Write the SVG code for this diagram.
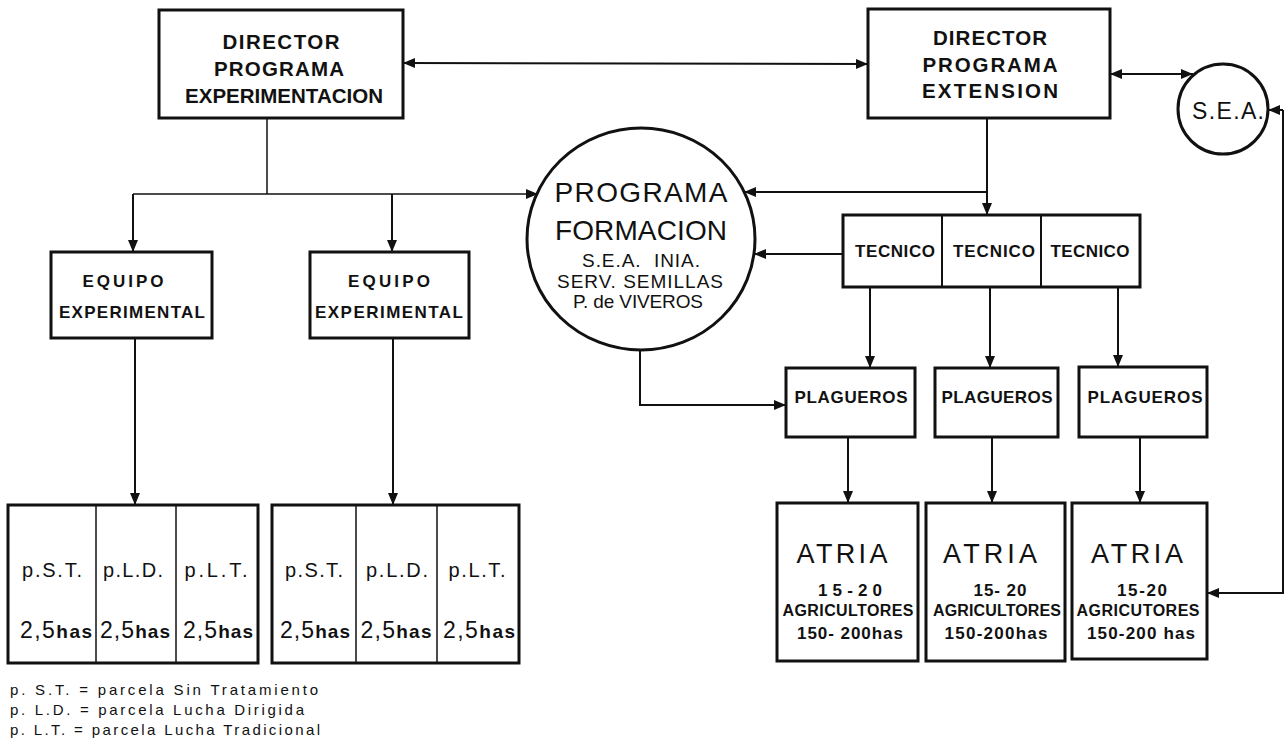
<svg xmlns="http://www.w3.org/2000/svg" width="1285" height="741" viewBox="0 0 1285 741">
<style>
text{font-family:"Liberation Sans",Arial,sans-serif;fill:#111;text-anchor:middle}
.box{fill:#fff;stroke:#111;stroke-width:3}
.thin{fill:none;stroke:#111;stroke-width:1.5}
.c{fill:none;stroke:#111;stroke-width:2}
.b{font-weight:bold}
.dir{font-size:20.5px;font-weight:bold}
.lbl{font-size:17px;font-weight:bold}
.sm{font-size:16px;font-weight:bold}
.leg{font-size:15px;text-anchor:start}
</style>
<defs>
<marker id="ah" viewBox="0 0 12 10" refX="12" refY="5" markerWidth="12" markerHeight="10" orient="auto-start-reverse" markerUnits="userSpaceOnUse"><path d="M0,0 L12,5 L0,10 z" fill="#111"/></marker>
</defs>

<g id="connectors">
<line class="c" x1="403" y1="63" x2="868" y2="64" marker-start="url(#ah)" marker-end="url(#ah)"/>
<line class="c" x1="1110" y1="74" x2="1193" y2="74" marker-start="url(#ah)" marker-end="url(#ah)"/>
<polyline class="c" points="1283,110 1283,593 1207,593" marker-end="url(#ah)"/>
<line class="c" x1="1283" y1="110" x2="1268" y2="110" marker-end="url(#ah)"/>
<line class="thin" x1="267" y1="118" x2="267" y2="194"/>
<line class="thin" x1="133" y1="194" x2="538" y2="194" marker-end="url(#ah)"/>
<line class="c" x1="133" y1="194" x2="133" y2="252" marker-end="url(#ah)"/>
<line class="c" x1="392" y1="194" x2="392" y2="252" marker-end="url(#ah)"/>
<line class="c" x1="135" y1="338" x2="135" y2="505" marker-end="url(#ah)"/>
<line class="c" x1="393" y1="338" x2="393" y2="505" marker-end="url(#ah)"/>
<line class="c" x1="987" y1="118" x2="987" y2="215" marker-end="url(#ah)"/>
<line class="c" x1="987" y1="192" x2="744" y2="192" marker-end="url(#ah)"/>
<line class="c" x1="843" y1="254" x2="754" y2="254" marker-end="url(#ah)"/>
<polyline class="c" points="640,350 640,405 786,405" marker-end="url(#ah)"/>
<line class="c" x1="870" y1="287" x2="870" y2="368" marker-end="url(#ah)"/>
<line class="c" x1="990" y1="287" x2="990" y2="368" marker-end="url(#ah)"/>
<line class="c" x1="1118" y1="287" x2="1118" y2="367" marker-end="url(#ah)"/>
<line class="c" x1="848" y1="437" x2="848" y2="503" marker-end="url(#ah)"/>
<line class="c" x1="992" y1="437" x2="992" y2="503" marker-end="url(#ah)"/>
<line class="c" x1="1140" y1="437" x2="1140" y2="503" marker-end="url(#ah)"/>
</g>

<g id="dir-exp">
<rect class="box" x="159" y="10" width="244" height="108"/>
<text class="dir" x="281" y="49" textLength="117" lengthAdjust="spacing">DIRECTOR</text>
<text class="dir" x="279" y="76" textLength="130" lengthAdjust="spacing">PROGRAMA</text>
<text class="dir" x="284" y="103" textLength="198" lengthAdjust="spacing">EXPERIMENTACION</text>
</g>

<g id="dir-ext">
<rect class="box" x="868" y="9" width="242" height="109"/>
<text class="dir" x="990" y="45" textLength="114" lengthAdjust="spacing">DIRECTOR</text>
<text class="dir" x="990" y="72" textLength="135" lengthAdjust="spacing">PROGRAMA</text>
<text class="dir" x="990" y="98" textLength="136" lengthAdjust="spacing">EXTENSION</text>
</g>

<g id="sea">
<circle cx="1223" cy="109" r="45" fill="#fff" stroke="#111" stroke-width="3"/>
<text x="1228" y="119" style="font-size:23px" textLength="72" lengthAdjust="spacing">S.E.A.</text>
</g>

<g id="formacion">
<ellipse cx="641" cy="239" rx="114" ry="111" fill="#fff" stroke="#111" stroke-width="3"/>
<text x="641" y="202" style="font-size:28px" textLength="173" lengthAdjust="spacing">PROGRAMA</text>
<text x="641" y="240" style="font-size:28px" textLength="172" lengthAdjust="spacing">FORMACION</text>
<text x="641" y="267" style="font-size:19px;white-space:pre" textLength="118" lengthAdjust="spacing">S.E.A.  INIA.</text>
<text x="640" y="288" style="font-size:19px" textLength="166" lengthAdjust="spacing">SERV. SEMILLAS</text>
<text x="638" y="308" style="font-size:19px" textLength="130" lengthAdjust="spacing">P. de VIVEROS</text>
</g>

<g id="equipo1">
<rect class="box" x="51" y="252" width="161" height="86"/>
<text class="lbl" x="123" y="287" textLength="81" lengthAdjust="spacing">EQUIPO</text>
<text class="lbl" x="132" y="318" textLength="146" lengthAdjust="spacing">EXPERIMENTAL</text>
</g>
<g id="equipo2">
<rect class="box" x="310" y="252" width="159" height="86"/>
<text class="lbl" x="389" y="287" textLength="82" lengthAdjust="spacing">EQUIPO</text>
<text class="lbl" x="389" y="318" textLength="148" lengthAdjust="spacing">EXPERIMENTAL</text>
</g>

<g id="parcelas1">
<rect class="box" x="8" y="505" width="250" height="158"/>
<line class="thin" x1="96" y1="505" x2="96" y2="663"/>
<line class="thin" x1="176" y1="505" x2="176" y2="663"/>
<text x="52" y="577" style="font-size:20px" textLength="60" lengthAdjust="spacing">p.S.T.</text>
<text x="133" y="577" style="font-size:20px" textLength="60" lengthAdjust="spacing">p.L.D.</text>
<text x="216" y="577" style="font-size:20px" textLength="63" lengthAdjust="spacing">p.L.T.</text>
<text x="56" y="638" style="font-size:23px" textLength="72" lengthAdjust="spacing">2,5<tspan class="b" style="font-size:19px">has</tspan></text>
<text x="135" y="638" style="font-size:23px" textLength="70" lengthAdjust="spacing">2,5<tspan class="b" style="font-size:19px">has</tspan></text>
<text x="218" y="638" style="font-size:23px" textLength="70" lengthAdjust="spacing">2,5<tspan class="b" style="font-size:19px">has</tspan></text>
</g>

<g id="parcelas2">
<rect class="box" x="272" y="505" width="247" height="158"/>
<line class="thin" x1="356" y1="505" x2="356" y2="663"/>
<line class="thin" x1="437" y1="505" x2="437" y2="663"/>
<text x="314" y="577" style="font-size:20px" textLength="58" lengthAdjust="spacing">p.S.T.</text>
<text x="397" y="577" style="font-size:20px" textLength="62" lengthAdjust="spacing">p.L.D.</text>
<text x="477" y="577" style="font-size:20px" textLength="57" lengthAdjust="spacing">p.L.T.</text>
<text x="315" y="638" style="font-size:23px" textLength="70" lengthAdjust="spacing">2,5<tspan class="b" style="font-size:19px">has</tspan></text>
<text x="396" y="638" style="font-size:23px" textLength="71" lengthAdjust="spacing">2,5<tspan class="b" style="font-size:19px">has</tspan></text>
<text x="479" y="638" style="font-size:23px" textLength="72" lengthAdjust="spacing">2,5<tspan class="b" style="font-size:19px">has</tspan></text>
</g>

<g id="tecnicos">
<rect class="box" x="843" y="215" width="297" height="72"/>
<line class="c" x1="942" y1="215" x2="942" y2="287" stroke-width="3"/>
<line class="c" x1="1041" y1="215" x2="1041" y2="287" stroke-width="3"/>
<text class="lbl" x="895" y="257" textLength="80" lengthAdjust="spacing">TECNICO</text>
<text class="lbl" x="994" y="257" textLength="82" lengthAdjust="spacing">TECNICO</text>
<text class="lbl" x="1090" y="257" textLength="79" lengthAdjust="spacing">TECNICO</text>
</g>

<g id="plagueros1">
<rect class="box" x="786" y="368" width="129" height="69"/>
<text class="lbl" x="851" y="403" textLength="113" lengthAdjust="spacing">PLAGUEROS</text>
</g>
<g id="plagueros2">
<rect class="box" x="935" y="368" width="123" height="69"/>
<text class="lbl" x="997" y="403" textLength="111" lengthAdjust="spacing">PLAGUEROS</text>
</g>
<g id="plagueros3">
<rect class="box" x="1079" y="367" width="128" height="70"/>
<text class="lbl" x="1145" y="403" textLength="115" lengthAdjust="spacing">PLAGUEROS</text>
</g>

<g id="atria1">
<rect class="box" x="777" y="503" width="141" height="158" stroke-width="3.5"/>
<text x="842" y="563" style="font-size:27px" textLength="91" lengthAdjust="spacing">ATRIA</text>
<text class="lbl" x="850" y="596" textLength="64" lengthAdjust="spacing">15-20</text>
<text class="sm" x="848" y="616" textLength="131" lengthAdjust="spacing">AGRICULTORES</text>
<text class="lbl" x="850" y="639" textLength="106" lengthAdjust="spacing">150- 200has</text>
</g>
<g id="atria2">
<rect class="box" x="926" y="503" width="139" height="158" stroke-width="3.5"/>
<text x="990" y="563" style="font-size:27px" textLength="94" lengthAdjust="spacing">ATRIA</text>
<text class="lbl" x="1000" y="596" textLength="53" lengthAdjust="spacing">15- 20</text>
<text class="sm" x="997" y="616" textLength="128" lengthAdjust="spacing">AGRICULTORES</text>
<text class="lbl" x="996" y="639" textLength="103" lengthAdjust="spacing">150-200has</text>
</g>
<g id="atria3">
<rect class="box" x="1072" y="503" width="135" height="156" stroke-width="3.5"/>
<text x="1137" y="563" style="font-size:27px" textLength="92" lengthAdjust="spacing">ATRIA</text>
<text class="lbl" x="1142" y="596" textLength="50" lengthAdjust="spacing">15-20</text>
<text class="sm" x="1138" y="616" textLength="123" lengthAdjust="spacing">AGRICUTORES</text>
<text class="lbl" x="1141" y="639" textLength="108" lengthAdjust="spacing">150-200 has</text>
</g>

<g id="legend">
<text class="leg" x="10" y="695" textLength="308" lengthAdjust="spacing">p. S.T. = parcela Sin Tratamiento</text>
<text class="leg" x="10" y="715" textLength="294" lengthAdjust="spacing">p. L.D. = parcela Lucha Dirigida</text>
<text class="leg" x="10" y="735" textLength="310" lengthAdjust="spacing">p. L.T. = parcela Lucha Tradicional</text>
</g>
</svg>
